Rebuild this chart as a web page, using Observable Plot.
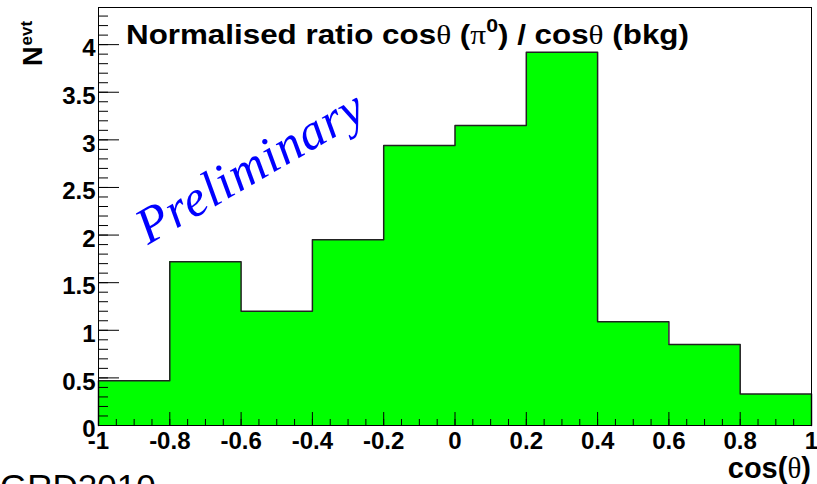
<!DOCTYPE html>
<html><head><meta charset="utf-8">
<script src="https://cdn.jsdelivr.net/npm/d3@7"></script>
<script src="https://cdn.jsdelivr.net/npm/@observablehq/plot@0.6"></script>
<style>body{margin:0;background:#fff}</style>
</head><body><div id="chart"></div>
<script>
// bins of cos(theta)
const binLow = [-1, -0.8, -0.6, -0.4, -0.2, 0, 0.2, 0.4, 0.6, 0.8];
const binHigh = [-0.8, -0.6, -0.4, -0.2, 0, 0.2, 0.4, 0.6, 0.8, 1];
const ratioValues = [0.47, 1.72, 1.20, 1.95, 2.94, 3.15, 3.92, 1.09, 0.85, 0.33];
const xTickValues = [-1, -0.8, -0.6, -0.4, -0.2, 0, 0.2, 0.4, 0.6, 0.8, 1];
const xTickLabels = ["-1", "-0.8", "-0.6", "-0.4", "-0.2", "0", "0.2", "0.4", "0.6", "0.8", "1"];
const yTickValues = [0, 0.5, 1, 1.5, 2, 2.5, 3, 3.5, 4];
const yTickLabels = ["0", "0.5", "1", "1.5", "2", "2.5", "3", "3.5", "4"];

const W = 817, H = 484, ML = 98, MR = 6, MT = 7, MB = 59;
const PW = W - ML - MR, PH = H - MT - MB;

const bins = binLow.map((x1, i) => ({x1, x2: binHigh[i], y: ratioValues[i]}));
const outline = [{x: binLow[0], y: 0}, ...bins.map(b => ({x: b.x1, y: b.y})),
  {x: binHigh[binHigh.length - 1], y: ratioValues[ratioValues.length - 1]},
  {x: binHigh[binHigh.length - 1], y: 0}];

const xMinor = d3.range(0, 41).map(i => -1 + i * 0.05);
const yMinor = d3.range(0, 44).map(i => i * 0.1);

const svg = Plot.plot({
  width: W, height: H,
  marginLeft: ML, marginRight: MR, marginTop: MT, marginBottom: MB,
  x: {domain: [-1, 1]},
  y: {domain: [0, 4.39]},
  style: {fontFamily: "Liberation Sans, Arial, sans-serif", background: "#fff", color: "#000"},
  marks: [
    Plot.rectY(bins, {x1: "x1", x2: "x2", y: "y", fill: "#00ff00", shapeRendering: "crispEdges"}),
    Plot.line(outline, {x: "x", y: "y", curve: "step-after", stroke: "#222", strokeWidth: 1.5}),
    Plot.tickY(yMinor, {y: d => d, stroke: "#000", strokeWidth: 1, insetRight: PW - 10}),
    Plot.tickY(yTickValues, {y: d => d, stroke: "#000", strokeWidth: 1, insetRight: PW - 21}),
    Plot.tickX(xMinor, {x: d => d, stroke: "#000", strokeWidth: 1, insetTop: PH - 6}),
    Plot.tickX(xTickValues, {x: d => d, stroke: "#000", strokeWidth: 1, insetTop: PH - 13}),
    Plot.axisY(yTickValues, {tickSize: 0, tickPadding: 3, dy: 4, label: null,
      tickFormat: d => yTickLabels[yTickValues.indexOf(d)],
      fontSize: 24, fontWeight: "bold", fill: "#000"}),
    Plot.axisX(xTickValues, {tickSize: 0, tickPadding: 6, label: null,
      tickFormat: d => xTickLabels[xTickValues.indexOf(d)],
      fontSize: 24, fontWeight: "bold", fill: "#000"}),
    Plot.frame({stroke: "#000", strokeWidth: 1})
  ]
});

const s = d3.select(svg);
const SANS = "Liberation Sans, Arial, sans-serif";
const SERIF = "Liberation Serif, Times New Roman, serif";
// enforce tick label size
s.selectAll('g[aria-label="y-axis tick label"], g[aria-label="x-axis tick label"]')
  .attr("font-size", 24).style("font-size", "24px").attr("font-weight", "bold").style("font-weight", "bold");

// title
const t = s.append("text").attr("transform", "translate(126,44) scale(1.12,1)").attr("text-anchor", "start")
  .attr("font-family", SANS).attr("font-weight", "bold")
  .attr("font-size", 28).attr("fill", "#000");
t.append("tspan").text("Normalised ratio cos");
t.append("tspan").attr("font-family", SERIF).attr("font-weight", "normal").text("θ");
t.append("tspan").text(" (");
t.append("tspan").attr("font-family", SERIF).attr("font-weight", "normal").text("π");
t.append("tspan").attr("font-size", 19).attr("dy", -12).text("0");
t.append("tspan").attr("dy", 12).text(") / cos");
t.append("tspan").attr("font-family", SERIF).attr("font-weight", "normal").text("θ");
t.append("tspan").text(" (bkg)");

// x label
const xl = s.append("text").attr("x", 811).attr("y", 478).attr("text-anchor", "end")
  .attr("font-family", SANS).attr("font-weight", "bold")
  .attr("font-size", 29).attr("fill", "#000");
xl.append("tspan").text("cos(");
xl.append("tspan").attr("font-family", SERIF).attr("font-weight", "normal").text("θ");
xl.append("tspan").text(")");

// y label
const yl = s.append("text").attr("transform", "translate(42,66) rotate(-90)").attr("text-anchor", "start")
  .attr("font-family", SANS).attr("font-weight", "bold")
  .attr("font-size", 27).attr("fill", "#000");
yl.append("tspan").text("N");
yl.append("tspan").attr("font-size", 17).attr("dy", -10).attr("dx", 1).text("evt");

// Preliminary
s.append("text").attr("transform", "translate(148,245) rotate(-30)").attr("text-anchor", "start")
  .attr("font-family", SERIF).attr("font-style", "italic")
  .attr("font-size", 51).attr("letter-spacing", 1).attr("fill", "#0000ff").text("Preliminary");

// GRD2010
s.append("text").attr("x", 0).attr("y", 499).attr("text-anchor", "start")
  .attr("font-family", SANS)
  .attr("font-size", 35).attr("fill", "#000").text("GRD2010");

document.getElementById("chart").appendChild(svg);
</script></body></html>
